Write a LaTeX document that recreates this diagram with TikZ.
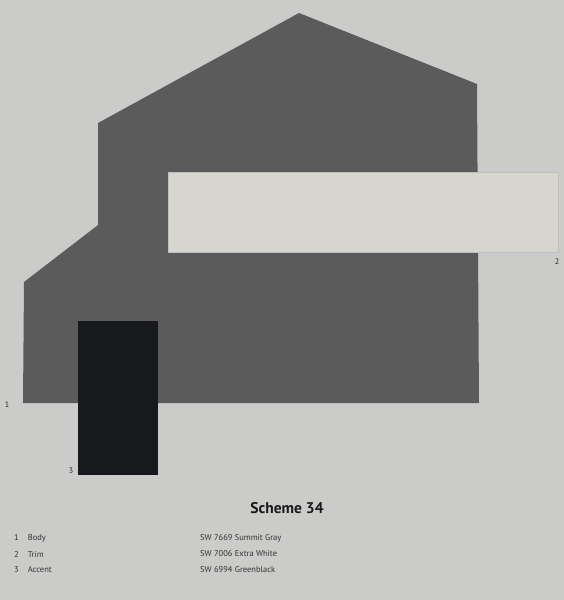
\documentclass[tikz,border=0pt]{standalone}
\usepackage{fontspec}
\setmainfont{PT Sans}
\definecolor{paper}{HTML}{CBCBCA}
\definecolor{body}{HTML}{5B5B5B}
\definecolor{trim}{HTML}{D6D6CF}
\definecolor{accent}{HTML}{18191C}
\tikzset{
    num/.style={font=\fontsize{8}{9}\selectfont, text=black!85},
    legend/.style={font=\fontsize{8.5}{10}\selectfont, text=black!80, anchor=west, inner sep=0pt}
}
\begin{document}
\begin{tikzpicture}[x=1pt,y=-1pt]
    \fill[paper](0,0) rectangle (564,600);
    % body
    \fill[body](299,13)--(477,84)--(479,403)--(23,403)--(24,282)--(98,225)--(98,123)--cycle;
    % trim
    \fill[trim](168,172) rectangle (558,252);
    \draw[black!25, line width=.4pt](168,172) rectangle (558,252);
    % accent
    \fill[accent](78,321) rectangle (158,475);
    \node[num] (n1) at (7,405){1};
    \node[num] (n2) at (557,262){2};
    \node[num] (n3) at (71,471){3};
    \node[font=\fontsize{15.5}{18}\selectfont\bfseries, text=black!90] (title) at (287,508){Scheme 34};
    \node[legend] (k1) at (14,538){1\hspace{9pt}Body};
    \node[legend] (k2) at (14,554){2\hspace{9pt}Trim};
    \node[legend] (k3) at (14,570){3\hspace{9pt}Accent};
    \node[legend] (c1) at (200,538){SW 7669 Summit Gray};
    \node[legend] (c2) at (200,554){SW 7006 Extra White};
    \node[legend] (c3) at (200,570){SW 6994 Greenblack};
\end{tikzpicture}
\end{document}
